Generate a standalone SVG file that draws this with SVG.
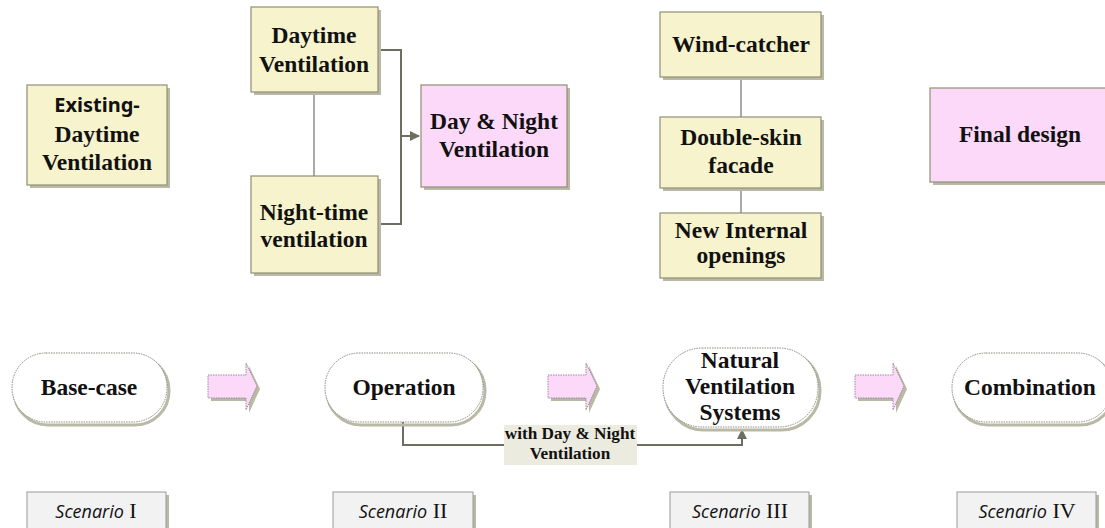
<svg xmlns="http://www.w3.org/2000/svg" width="1105" height="528" viewBox="0 0 1105 528">
<style>
.box{fill:#f7f3cc;stroke:#8f8f76;stroke-width:1.2}
.pink{fill:#fcd9f8;stroke:#8f8f76;stroke-width:1.2}
.sh{fill:#b9b9a6}
.t{font-family:"Liberation Serif",serif;font-weight:bold;font-size:23.5px;fill:#111;text-anchor:middle}
.s{font-family:"Noto Sans",sans-serif;font-weight:bold;font-size:20px;fill:#111;text-anchor:middle}
.pill{fill:#fff;stroke:#8a8a80;stroke-width:1;stroke-dasharray:1.5 1}
.psh{fill:none;stroke:#b9b9a6;stroke-width:3}
.arr{fill:#fcd9f8;stroke:#9a8a9a;stroke-width:1;stroke-dasharray:1.5 1}
.scn{fill:#f2f2f2;stroke:#9a9a9a;stroke-width:1}
.si{font-family:"Open Sans",sans-serif;font-style:italic;font-size:18px;fill:#111}
.sr{font-family:"Liberation Serif",serif;font-size:22px;fill:#111}
.c{fill:none;stroke:#6e6e60;stroke-width:2}
.thin{fill:none;stroke:#555;stroke-width:1}
.lb{font-size:17.2px}
</style>
<defs>
<marker id="ah" viewBox="0 0 10 10" refX="9" refY="5" markerWidth="5" markerHeight="5" orient="auto" markerUnits="strokeWidth">
<path d="M0,0 L10,5 L0,10 z" fill="#6e6e60"/>
</marker>
</defs>

<g id="connectors">
<line class="thin" x1="314" y1="92" x2="314" y2="176"/>
<polyline class="c" points="378,50 401,50 401,224 378,224"/>
<line class="c" x1="401" y1="136" x2="419" y2="136" marker-end="url(#ah)"/>
<line class="thin" x1="741" y1="77" x2="741" y2="117"/>
<line class="thin" x1="741" y1="188" x2="741" y2="213"/>
<polyline class="c" points="403,422 403,445 742,445 742,430" marker-end="url(#ah)"/>
</g>

<g id="existing">
<rect class="sh" x="30" y="88" width="140" height="100"/>
<rect class="box" x="27" y="85" width="140" height="100"/>
<text class="s" x="97" y="112">Existing-</text>
<text class="t" x="97" y="142">Daytime</text>
<text class="t" x="97" y="170">Ventilation</text>
</g>

<g id="daytime">
<rect class="sh" x="254" y="10" width="127" height="85"/>
<rect class="box" x="251" y="7" width="127" height="85"/>
<text class="t" x="314" y="43">Daytime</text>
<text class="t" x="314" y="72">Ventilation</text>
</g>

<g id="nighttime">
<rect class="sh" x="254" y="179" width="127" height="97"/>
<rect class="box" x="251" y="176" width="127" height="97"/>
<text class="t" x="314" y="220">Night-time</text>
<text class="t" x="314" y="247">ventilation</text>
</g>

<g id="daynight">
<rect class="sh" x="424" y="88" width="146" height="102"/>
<rect class="pink" x="421" y="85" width="146" height="102"/>
<text class="t" x="494" y="129">Day &amp; Night</text>
<text class="t" x="494" y="157">Ventilation</text>
</g>

<g id="windcatcher">
<rect class="sh" x="663" y="15" width="161" height="65"/>
<rect class="box" x="660" y="12" width="161" height="65"/>
<text class="t" x="741" y="52">Wind-catcher</text>
</g>

<g id="doubleskin">
<rect class="sh" x="663" y="120" width="161" height="71"/>
<rect class="box" x="660" y="117" width="161" height="71"/>
<text class="t" x="741" y="145">Double-skin</text>
<text class="t" x="741" y="173">facade</text>
</g>

<g id="newinternal">
<rect class="sh" x="663" y="216" width="161" height="65"/>
<rect class="box" x="660" y="213" width="161" height="65"/>
<text class="t" x="741" y="238">New Internal</text>
<text class="t" x="741" y="263">openings</text>
</g>

<g id="finaldesign">
<rect class="sh" x="933" y="91" width="180" height="94"/>
<rect class="pink" x="930" y="88" width="180" height="94"/>
<text class="t" x="1020" y="142">Final design</text>
</g>

<g id="basecase">
<rect class="psh" x="14" y="356" width="155" height="69" rx="34"/>
<rect class="pill" x="12" y="353" width="155" height="69" rx="34"/>
<text class="t" x="89" y="395">Base-case</text>
</g>

<g id="operation">
<rect class="psh" x="327" y="356" width="158" height="69" rx="34"/>
<rect class="pill" x="325" y="353" width="158" height="69" rx="34"/>
<text class="t" x="404" y="395">Operation</text>
</g>

<g id="natural">
<rect class="psh" x="665" y="351" width="155" height="79" rx="39"/>
<rect class="pill" x="663" y="348" width="155" height="79" rx="39"/>
<text class="t" x="740" y="368">Natural</text>
<text class="t" x="740" y="394">Ventilation</text>
<text class="t" x="740" y="420">Systems</text>
</g>

<g id="combination">
<rect class="psh" x="954" y="356" width="160" height="69" rx="34"/>
<rect class="pill" x="952" y="353" width="160" height="69" rx="34"/>
<text class="t" x="1030" y="395">Combination</text>
</g>

<g id="label">
<rect x="504" y="425" width="133" height="40" fill="#ecebdf"/>
<text class="t lb" x="570" y="439">with Day &amp; Night</text>
<text class="t lb" x="570" y="459">Ventilation</text>
</g>

<g id="arrow1">
<path d="M211,378 L249,378 L249,366 L260,389 L249,413 L249,401 L211,401 z" fill="#b9b9a6"/>
<path class="arr" d="M208,375 L246,375 L246,363 L257,386 L246,410 L246,398 L208,398 z"/>
</g>
<g id="arrow2">
<path d="M551,378 L589,378 L589,366 L600,389 L589,413 L589,401 L551,401 z" fill="#b9b9a6"/>
<path class="arr" d="M548,375 L586,375 L586,363 L597,386 L586,410 L586,398 L548,398 z"/>
</g>
<g id="arrow3">
<path d="M858,378 L896,378 L896,366 L907,389 L896,413 L896,401 L858,401 z" fill="#b9b9a6"/>
<path class="arr" d="M855,375 L893,375 L893,363 L904,386 L893,410 L893,398 L855,398 z"/>
</g>

<g id="scenario1">
<rect x="30" y="495" width="139" height="40" fill="#b9b9a6"/>
<rect class="scn" x="27" y="492" width="139" height="40"/>
<text x="96" y="518" text-anchor="middle"><tspan class="si">Scenario</tspan><tspan class="sr"> I</tspan></text>
</g>
<g id="scenario2">
<rect x="336" y="495" width="140" height="40" fill="#b9b9a6"/>
<rect class="scn" x="333" y="492" width="140" height="40"/>
<text x="403" y="518" text-anchor="middle"><tspan class="si">Scenario</tspan><tspan class="sr"> II</tspan></text>
</g>
<g id="scenario3">
<rect x="673" y="495" width="139" height="40" fill="#b9b9a6"/>
<rect class="scn" x="670" y="492" width="139" height="40"/>
<text x="740" y="518" text-anchor="middle"><tspan class="si">Scenario</tspan><tspan class="sr"> III</tspan></text>
</g>
<g id="scenario4">
<rect x="960" y="495" width="139" height="40" fill="#b9b9a6"/>
<rect class="scn" x="957" y="492" width="139" height="40"/>
<text x="1027" y="518" text-anchor="middle"><tspan class="si">Scenario</tspan><tspan class="sr"> IV</tspan></text>
</g>
</svg>
